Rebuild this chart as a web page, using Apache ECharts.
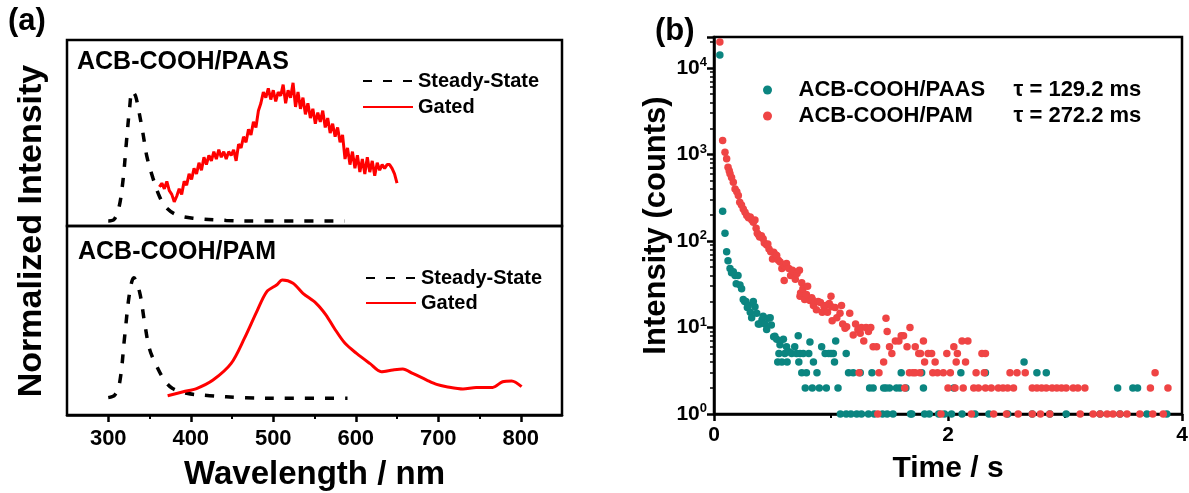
<!DOCTYPE html>
<html><head><meta charset="utf-8">
<script src="https://cdn.jsdelivr.net/npm/echarts@6/dist/echarts.min.js"></script>
<style>html,body{margin:0;padding:0;background:#fff}#c{width:1189px;height:493px}</style>
</head><body><div id="c"></div><script>
const FONT = '"Liberation Sans", Arial, Helvetica, sans-serif';

// ---------- Panel (a): spectra (normalized, 0..1 per sub-panel) ----------
const paasSteady = [[300,0.027],[307,0.035],[313,0.10],[318,0.25],[322,0.45],[326,0.64],[329,0.725],[333,0.70],[337,0.62],[342,0.50],[347,0.37],[354,0.26],[362,0.16],[370,0.10],[383,0.06],[403,0.042],[443,0.030],[484,0.027],[524,0.027],[587,0.027]];

const paasGatedWl = [362,365,368,371,374,377,380,383,386,389,392,395,398,401,404,407,410,413,416,419,422,425,428,431,434,437,440,443,446,449,452,455,458,461,464,467,470,473,476,479,482,485,488,491,494,497,500,503,506,509,512,515,518,521,524,527,530,533,536,539,542,545,548,551,554,557,560,563,566,569,572,575,578,581,584,587,590,593,596,599,602,605,608,611,614,617,620,623,626,629,632,635,638,641,644,647,650];
const paasGatedInt = [0.21,0.23,0.20,0.24,0.19,0.17,0.13,0.16,0.20,0.17,0.24,0.22,0.28,0.25,0.31,0.28,0.34,0.30,0.37,0.33,0.38,0.35,0.40,0.36,0.41,0.37,0.40,0.36,0.40,0.38,0.41,0.35,0.44,0.42,0.48,0.45,0.52,0.49,0.56,0.53,0.62,0.66,0.72,0.69,0.74,0.68,0.73,0.67,0.72,0.70,0.76,0.66,0.73,0.69,0.77,0.64,0.72,0.63,0.69,0.60,0.66,0.58,0.63,0.55,0.61,0.56,0.62,0.53,0.58,0.50,0.55,0.48,0.53,0.45,0.49,0.36,0.42,0.33,0.40,0.31,0.38,0.29,0.36,0.28,0.37,0.29,0.35,0.27,0.34,0.30,0.33,0.31,0.33,0.33,0.31,0.28,0.23];

const pamSteady = [[300,0.092],[308,0.106],[314,0.176],[320,0.42],[326,0.65],[331,0.726],[338,0.65],[344,0.49],[350,0.35],[358,0.265],[368,0.185],[378,0.14],[395,0.115],[423,0.102],[463,0.092],[524,0.088],[590,0.088]];

const pamGated = [[372,0.102],[391,0.123],[407,0.14],[427,0.185],[449,0.273],[465,0.405],[480,0.547],[492,0.652],[504,0.688],[511,0.714],[524,0.697],[536,0.644],[552,0.591],[564,0.529],[574,0.459],[587,0.379],[601,0.326],[617,0.273],[631,0.229],[645,0.238],[657,0.243],[669,0.22],[686,0.185],[698,0.162],[710,0.15],[730,0.138],[746,0.146],[766,0.146],[778,0.176],[789,0.18],[801,0.15]];

const wlMajorTicks = [300,400,500,600,700,800];
const wlMinorTicks = [350,450,550,650,750];

// ---------- Panel (b): decay curves [time (s), counts] ----------
const paasDecay = [[0.05,14100],[0.074,220],[0.094,123],[0.108,75],[0.12,59],[0.137,48],[0.15,43],[0.165,44],[0.18,40],[0.19,32],[0.205,40],[0.222,31],[0.236,28],[0.25,21],[0.262,20],[0.273,20],[0.285,17],[0.293,18],[0.31,15],[0.322,13],[0.336,20],[0.35,17.4],[0.365,14.6],[0.379,11],[0.39,11],[0.41,12.2],[0.42,13.5],[0.436,11],[0.45,9.5],[0.465,12.8],[0.48,13],[0.49,10.7],[0.51,7.8],[0.52,7.9],[0.536,7.3],[0.545,4],[0.555,5],[0.564,6.3],[0.58,4],[0.593,7.3],[0.605,5],[0.62,6],[0.625,4],[0.64,5.25],[0.664,5],[0.69,6],[0.705,5],[0.72,8],[0.725,4],[0.735,5],[0.75,3],[0.763,5],[0.78,2],[0.79,3],[0.81,5],[0.82,6.8],[0.84,2],[0.85,4],[0.88,3],[0.9,2],[0.92,6],[0.95,5],[0.96,2],[0.98,5],[1.0,5],[1.02,5],[1.03,4],[1.04,7],[1.06,2],[1.08,1],[1.13,5],[1.13,1],[1.15,3],[1.17,1],[1.19,3],[1.22,1],[1.25,3],[1.26,1],[1.32,1],[1.33,2],[1.35,3],[1.36,2],[1.37,1],[1.44,1],[1.45,2],[1.47,2],[1.48,1],[1.5,2],[1.53,1],[1.56,2],[1.59,2],[1.6,3],[1.64,2],[1.68,1],[1.69,1],[1.775,3],[1.79,2],[1.8,1],[1.84,1],[1.92,1],[1.97,1],[2.03,1],[2.05,2],[2.11,3],[2.12,1],[2.23,1],[2.32,3],[2.35,1],[2.51,1],[2.65,4],[2.72,1],[2.76,3],[2.84,3],[2.87,1],[3.01,1],[3.3,1],[3.45,2],[3.47,1],[3.58,2],[3.62,2],[3.7,1],[3.87,1]];

const pamDecay = [[0.05,20000],[0.074,1450],[0.094,1060],[0.108,890],[0.12,713],[0.13,650],[0.137,598],[0.15,540],[0.165,479],[0.18,400],[0.195,370],[0.208,336],[0.22,281],[0.235,260],[0.25,235],[0.265,215],[0.28,197],[0.295,185],[0.31,189],[0.323,175],[0.336,165],[0.35,175],[0.36,140],[0.37,123],[0.38,118],[0.39,111],[0.405,115],[0.42,106],[0.43,95],[0.45,90],[0.46,92],[0.47,81],[0.485,75],[0.5,62],[0.51,74],[0.523,70],[0.536,68],[0.55,60],[0.565,57],[0.58,48],[0.595,53],[0.6,35],[0.61,51],[0.62,55],[0.64,48],[0.655,40],[0.67,46],[0.68,44],[0.695,36],[0.71,42],[0.73,46],[0.735,23],[0.74,25],[0.75,33],[0.76,28],[0.775,21],[0.79,24],[0.8,30],[0.82,20.5],[0.835,22],[0.84,21],[0.85,18],[0.86,19.5],[0.875,16],[0.89,20],[0.91,19.5],[0.925,15],[0.94,17.5],[0.955,18],[0.97,15],[0.985,19],[1.0,23],[1.005,17.4],[1.01,12],[1.035,17],[1.05,13],[1.077,14.6],[1.09,18],[1.1,11],[1.12,9.8],[1.134,10.2],[1.16,14.6],[1.19,8.2],[1.21,11],[1.23,9.4],[1.24,3],[1.25,8.6],[1.26,10],[1.28,7],[1.3,10],[1.32,9],[1.34,10],[1.36,6],[1.39,6],[1.4,1],[1.41,3],[1.45,4],[1.47,12.8],[1.48,9],[1.5,6],[1.52,5],[1.55,7],[1.58,7],[1.6,8],[1.62,8],[1.63,2],[1.65,6],[1.67,3],[1.675,10],[1.7,3],[1.72,6],[1.72,3],[1.75,5],[1.76,3],[1.765,5],[1.79,7],[1.8,4],[1.83,5],[1.86,5],[1.87,3],[1.89,4],[1.91,3],[1.94,1],[1.96,3],[1.99,5],[2.0,2],[2.02,3],[2.05,6],[2.06,2],[2.07,4],[2.08,5],[2.12,7],[2.13,2],[2.15,4],[2.17,7],[2.2,1],[2.22,2],[2.24,3],[2.26,2],[2.29,5],[2.31,3],[2.32,5],[2.32,2],[2.37,2],[2.39,1],[2.43,2],[2.47,2],[2.5,1],[2.51,2],[2.53,3],[2.56,2],[2.59,3],[2.6,1],[2.66,3],[2.72,2],[2.72,1],[2.76,2],[2.79,1],[2.8,2],[2.84,2],[2.87,1],[2.89,2],[2.93,2],[2.97,2],[3.01,2],[3.07,2],[3.11,2],[3.13,1],[3.17,2],[3.24,1],[3.3,1],[3.36,1],[3.41,1],[3.47,1],[3.53,1],[3.64,1],[3.73,2],[3.75,1],[3.77,3],[3.84,1],[3.88,2]];

const decayNames = ['ACB-COOH/PAAS','ACB-COOH/PAM'];
const lifetimesMs = ['129.2','272.2'];
const logMinorTicks = [2,3,4,5,6,7,8,9,20,30,40,50,60,70,80,90,200,300,400,500,600,700,800,900,2000,3000,4000,5000,6000,7000,8000,9000,20000];
const countsMax = 22800;

const TEAL = '#0b8580';
const RED_DOT = '#ef4444';
const RED_LINE = '#ff0000';

const chart = echarts.init(document.getElementById('c'), null, {renderer:'canvas'});

const bold = (size) => ({fontFamily: FONT, fontWeight: 'bold', fontSize: size, color: '#000'});
const gridBox = {show: true, borderColor: '#000', borderWidth: 2.5, backgroundColor: 'transparent', outerBoundsMode: 'none', containLabel: false};

const option = {
  animation: false,
  backgroundColor: '#fff',
  grid: [
    Object.assign({left: 67, top: 40, width: 495, height: 186}, gridBox),
    Object.assign({left: 67, top: 226, width: 495, height: 189}, gridBox),
    Object.assign({left: 714, top: 37, width: 468, height: 377}, gridBox)
  ],
  xAxis: [
    {gridIndex: 0, type: 'value', min: 250, max: 850, show: false},
    {gridIndex: 1, type: 'value', min: 250, max: 850, position: 'bottom',
     axisLine: {show: true, onZero: false, lineStyle: {color: '#000', width: 2.5}},
     axisTick: {show: true, customValues: wlMajorTicks, length: 7, lineStyle: {color: '#000', width: 2.5}},
     axisLabel: {show: true, customValues: wlMajorTicks, margin: 13, ...bold(22)},
     splitLine: {show: false},
     name: 'Wavelength / nm', nameLocation: 'middle', nameGap: 43, nameTextStyle: bold(33)},
    {gridIndex: 1, type: 'value', min: 250, max: 850, position: 'bottom',
     axisLine: {show: false}, axisLabel: {show: false}, splitLine: {show: false},
     axisTick: {show: true, customValues: wlMinorTicks, length: 4, lineStyle: {color: '#000', width: 2}}},
    {gridIndex: 2, type: 'value', min: 0, max: 4, interval: 2, position: 'bottom',
     axisLine: {show: true, onZero: false, lineStyle: {color: '#000', width: 2.5}},
     axisTick: {show: true, length: 7, lineStyle: {color: '#000', width: 2.5}},
     minorTick: {show: true, splitNumber: 2, length: 4, lineStyle: {color: '#000', width: 2}},
     axisLabel: {show: true, margin: 11, ...bold(21)},
     splitLine: {show: false}, minorSplitLine: {show: false},
     name: 'Time / s', nameLocation: 'middle', nameGap: 40, nameTextStyle: bold(30)}
  ],
  yAxis: [
    {gridIndex: 0, type: 'value', min: 0, max: 1, show: false},
    {gridIndex: 1, type: 'value', min: 0, max: 1, show: false},
    {gridIndex: 2, type: 'log', logBase: 10, min: 1, max: countsMax, position: 'left',
     axisLine: {show: true, onZero: false, lineStyle: {color: '#000', width: 2.5}},
     axisTick: {show: true, length: 7, lineStyle: {color: '#000', width: 2.5}},
     axisLabel: {show: true, margin: 7,
       formatter: (v) => {
         const e = Math.log10(v);
         if (Math.abs(e - Math.round(e)) > 1e-6) return '';
         return '{b|10}{s|' + Math.round(e) + '}';
       },
       rich: {
         b: {fontFamily: FONT, fontWeight: 'bold', fontSize: 21, color: '#000', lineHeight: 24},
         s: {fontFamily: FONT, fontWeight: 'bold', fontSize: 13, color: '#000', lineHeight: 14, verticalAlign: 'top'}
       }},
     splitLine: {show: false},
     name: 'Intensity (counts)', nameLocation: 'middle', nameGap: 42, nameTextStyle: bold(31)},
    {gridIndex: 2, type: 'value', min: 0, max: Math.log10(countsMax), position: 'left',
     axisLine: {show: false}, axisLabel: {show: false}, splitLine: {show: false},
     axisTick: {show: true, customValues: logMinorTicks.map(Math.log10), length: 4, lineStyle: {color: '#000', width: 1.5}}}
  ],
  legend: [
    {data: ['Steady-State', 'Gated'], orient: 'vertical', left: 362, top: 71, padding: 0,
     itemWidth: 50, itemHeight: 14, itemGap: 6, textStyle: bold(20), selectedMode: false,
     itemStyle: {opacity: 0, borderWidth: 0}},
    {data: ['Steady-State', 'Gated'], orient: 'vertical', left: 365, top: 268, padding: 0,
     itemWidth: 50, itemHeight: 14, itemGap: 5, textStyle: bold(20), selectedMode: false,
     itemStyle: {opacity: 0, borderWidth: 0}},
    {data: decayNames, orient: 'vertical', left: 763, top: 79, padding: 0,
     itemWidth: 52, itemHeight: 9, itemGap: 4, selectedMode: false,
     formatter: (name) => '{n|' + name + '}{t|τ = ' + lifetimesMs[decayNames.indexOf(name)] + ' ms}',
     textStyle: {rich: {
       n: {fontFamily: FONT, fontWeight: 'bold', fontSize: 22, color: '#000', width: 215, lineHeight: 22},
       t: {fontFamily: FONT, fontWeight: 'bold', fontSize: 22, color: '#000', lineHeight: 22}
     }}}
  ],
  graphic: [
    {type: 'text', left: 8, top: 6, style: {text: '(a)', font: 'bold 31px ' + FONT, fill: '#000'}},
    {type: 'text', left: 655, top: 16, style: {text: '(b)', font: 'bold 31px ' + FONT, fill: '#000'}},
    {type: 'text', x: 32, y: 231, rotation: Math.PI / 2,
     style: {text: 'Normalized Intensity', font: 'bold 34px ' + FONT, fill: '#000', align: 'center', verticalAlign: 'middle'}},
    {type: 'text', x: 77, y: 62, style: {text: 'ACB-COOH/PAAS', font: 'bold 25px ' + FONT, fill: '#000', verticalAlign: 'middle'}},
    {type: 'text', x: 78, y: 252, style: {text: 'ACB-COOH/PAM', font: 'bold 25px ' + FONT, fill: '#000', verticalAlign: 'middle'}}
  ],
  series: [
    {name: 'Steady-State', type: 'line', xAxisIndex: 0, yAxisIndex: 0, data: paasSteady, symbol: 'none', smooth: 0.35,
     lineStyle: {color: '#000', width: 3.5, type: [9, 11]}, itemStyle: {color: '#000'}},
    {name: 'Gated', type: 'line', xAxisIndex: 0, yAxisIndex: 0, data: paasGatedWl.map((w, i) => [w, paasGatedInt[i]]), symbol: 'none',
     lineStyle: {color: RED_LINE, width: 3}, itemStyle: {color: RED_LINE}},
    {name: 'Steady-State', type: 'line', xAxisIndex: 1, yAxisIndex: 1, data: pamSteady, symbol: 'none', smooth: 0.35,
     lineStyle: {color: '#000', width: 3.5, type: [9, 11]}, itemStyle: {color: '#000'}},
    {name: 'Gated', type: 'line', xAxisIndex: 1, yAxisIndex: 1, data: pamGated, symbol: 'none', smooth: 0.3,
     lineStyle: {color: RED_LINE, width: 3}, itemStyle: {color: RED_LINE}},
    {name: decayNames[0], type: 'scatter', xAxisIndex: 3, yAxisIndex: 2, data: paasDecay, symbol: 'circle', symbolSize: 7.5,
     itemStyle: {color: TEAL, opacity: 1}},
    {name: decayNames[1], type: 'scatter', xAxisIndex: 3, yAxisIndex: 2, data: pamDecay, symbol: 'circle', symbolSize: 7.5,
     itemStyle: {color: RED_DOT, opacity: 1}}
  ]
};
chart.setOption(option);
</script></body></html>
